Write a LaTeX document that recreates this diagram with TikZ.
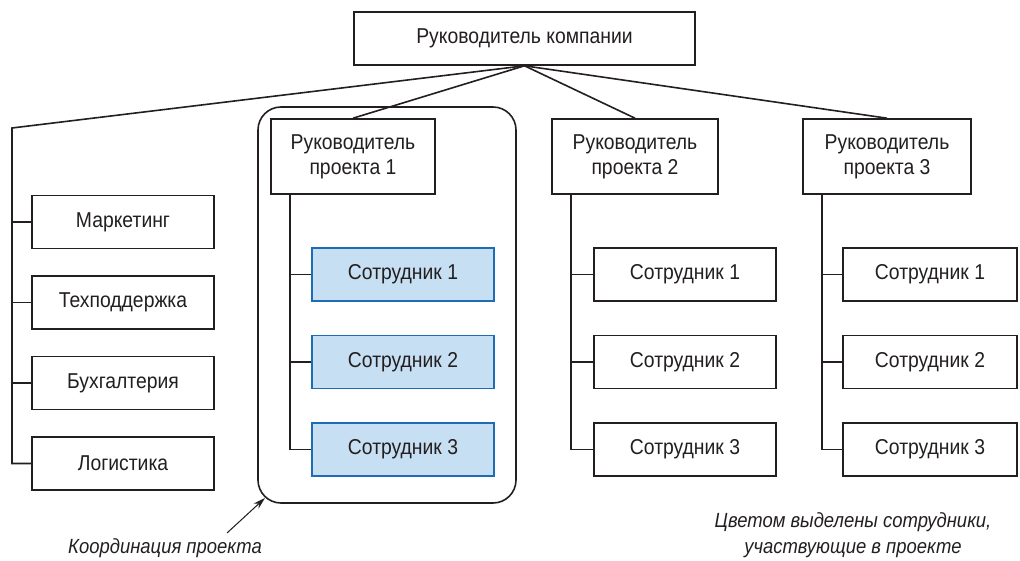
\documentclass[tikz,border=0pt]{standalone}
\usepackage{fontspec}
\setmainfont[FakeStretch=0.9]{Liberation Sans}
\usetikzlibrary{arrows.meta}

\definecolor{inkgray}{HTML}{231F20}
\definecolor{hlfill}{HTML}{C6DFF2}
\definecolor{hldraw}{HTML}{1E6DB4}

\tikzset{
  orgbox/.style={draw=inkgray, line width=1.6pt, fill=white, text=inkgray,
    align=center, inner sep=0pt, font=\fontsize{21.5}{25}\selectfont},
  staffbox/.style={orgbox, minimum width=182pt, minimum height=53pt},
  hlbox/.style={staffbox, draw=hldraw, fill=hlfill},
  link/.style={draw=inkgray, line width=1.6pt},
  note/.style={text=inkgray, align=center, font=\fontsize{20.5}{26}\selectfont\itshape}
}

\begin{document}
\begin{tikzpicture}[x=1pt, y=-1pt]

\useasboundingbox (0,0) rectangle (1020,561);

% project group frame
\draw[link, rounded corners=23pt] (258,107) rectangle (516,503);

\node[orgbox, minimum width=341pt, minimum height=53pt] (head) at (524.5,38.5) {Руководитель компании};

\node[orgbox, minimum width=164pt, minimum height=75pt] (pm1) at (353,156.5) {Руководитель\\проекта 1};
\node[orgbox, minimum width=166pt, minimum height=75pt] (pm2) at (635,156.5) {Руководитель\\проекта 2};
\node[orgbox, minimum width=168pt, minimum height=75pt] (pm3) at (887,156.5) {Руководитель\\проекта 3};

% departments
\node[staffbox] (dep1) at (123,222) {Маркетинг};
\node[staffbox] (dep2) at (123,302.5) {Техподдержка};
\node[staffbox] (dep3) at (123,383) {Бухгалтерия};
\node[staffbox] (dep4) at (123,463.5) {Логистика};

% staff
\foreach \r/\y in {1/274.5, 2/362, 3/449.5} {
  \node[hlbox] (s1\r) at (403,\y) {Сотрудник \r};
  \node[staffbox] (s2\r) at (685,\y) {Сотрудник \r};
  \node[staffbox, minimum width=174pt] (s3\r) at (930,\y) {Сотрудник \r};
}

% links from the head
\coordinate (hub) at (12,128);
\draw[link] (head.south) -- (hub) |- (dep4.west);
\foreach \d in {1,2,3}
  \draw[link] (hub |- dep\d.west) -- (dep\d.west);
\foreach \c in {1,2,3}
  \draw[link] (head.south) -- (pm\c.north);

% links from project managers
\foreach \c in {1,2,3} {
  \coordinate (t\c) at ([xshift=20pt]pm\c.south west);
  \draw[link] (t\c) |- (s\c3.west);
  \foreach \r in {1,2}
    \draw[link] (t\c |- s\c\r.west) -- (s\c\r.west);
}

% notes
\node[note] (coordnote) at (165,548) {Координация проекта};
\node[note] (colornote) at (853,535) {Цветом выделены сотрудники,\\участвующие в проекте};

\coordinate (tail) at (227,533);
\coordinate (corner) at (265,498);
\draw[-{Stealth[length=12pt, width=7pt]}, draw=inkgray, fill=inkgray, line width=1pt] (tail) -- (corner);

\end{tikzpicture}
\end{document}
